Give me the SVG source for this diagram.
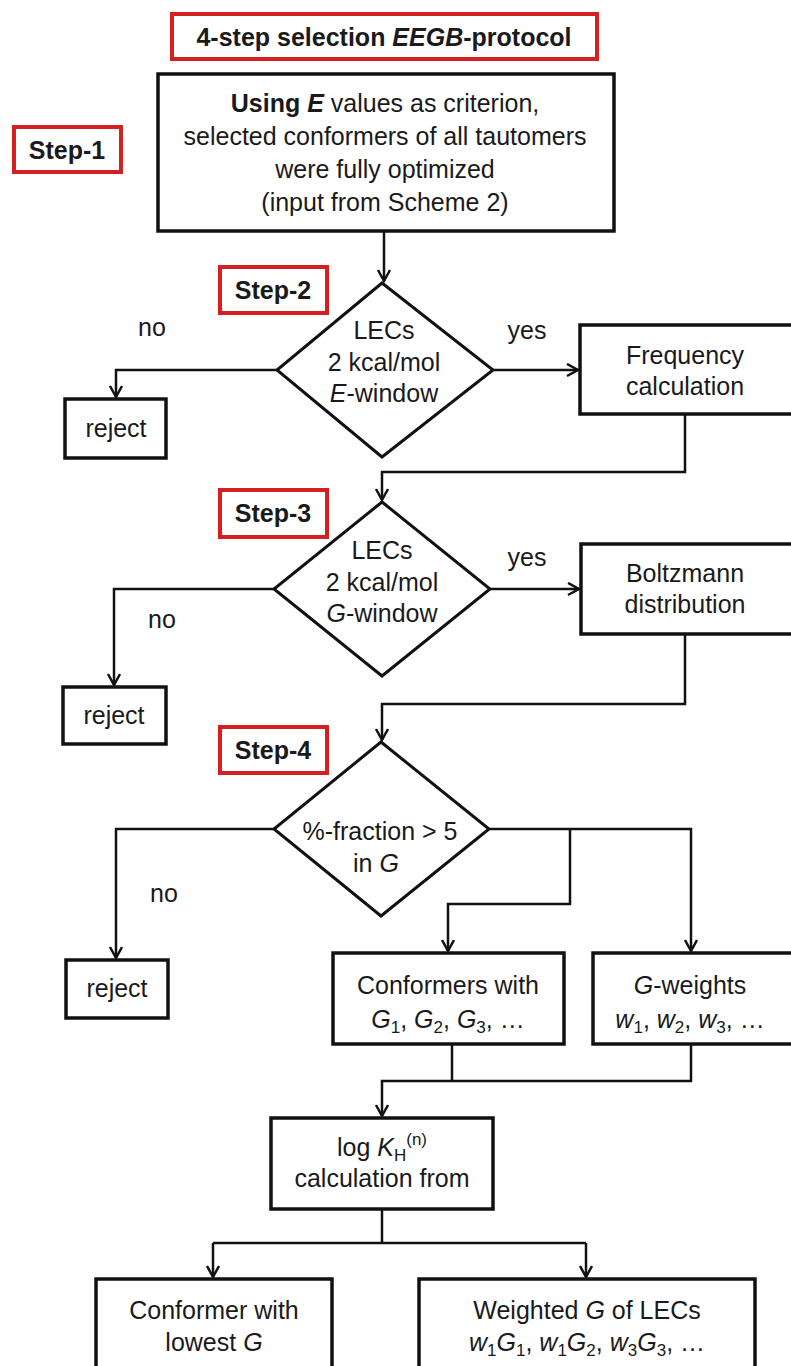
<svg xmlns="http://www.w3.org/2000/svg" width="791" height="1366" viewBox="0 0 791 1366">
<style>
text{font-family:"Liberation Sans",Arial,sans-serif;font-size:25px;fill:#1a1a1a;text-anchor:middle}
.b{font-weight:bold}
.i{font-style:italic}
.box{fill:#fff;stroke:#111;stroke-width:3.5}
.dia{fill:#fff;stroke:#111;stroke-width:3}
.red{fill:#fff;stroke:#d42020;stroke-width:4}
.c{fill:none;stroke:#111;stroke-width:2.5}
.sub{font-size:17px}
</style>
<defs>
<marker id="ah" markerUnits="userSpaceOnUse" markerWidth="16" markerHeight="16" refX="12" refY="7" orient="auto">
<path d="M1,1 L12,7 L1,13" fill="none" stroke="#111" stroke-width="2.5"/>
</marker>
</defs>
<rect width="791" height="1366" fill="#fff"/>

<g id="connectors">
<path class="c" d="M384,231 V281" marker-end="url(#ah)"/>
<path class="c" d="M277,370 H116 V397" marker-end="url(#ah)"/>
<path class="c" d="M493,370 H578" marker-end="url(#ah)"/>
<path class="c" d="M685,414 V472 H382 V500" marker-end="url(#ah)"/>
<path class="c" d="M274,589 H114 V685" marker-end="url(#ah)"/>
<path class="c" d="M490,589 H579" marker-end="url(#ah)"/>
<path class="c" d="M685,634 V704 H382 V740" marker-end="url(#ah)"/>
<path class="c" d="M274,829 H116 V958" marker-end="url(#ah)"/>
<path class="c" d="M489,829 H691 V951" marker-end="url(#ah)"/>
<path class="c" d="M570,829 V904 H448 V951" marker-end="url(#ah)"/>
<path class="c" d="M452,1044 V1081"/>
<path class="c" d="M691,1044 V1081 H382 V1116" marker-end="url(#ah)"/>
<path class="c" d="M382,1209 V1243"/>
<path class="c" d="M213,1243 H586"/>
<path class="c" d="M213,1243 V1277" marker-end="url(#ah)"/>
<path class="c" d="M586,1243 V1277" marker-end="url(#ah)"/>
</g>

<g id="title">
<rect class="red" x="172" y="14" width="425" height="45"/>
<text class="b" x="384" y="46">4-step selection <tspan class="i">EEGB</tspan>-protocol</text>
</g>

<g id="step1-label">
<rect class="red" x="14" y="127" width="107" height="45"/>
<text class="b" x="67" y="159">Step-1</text>
</g>

<g id="step1">
<rect class="box" x="158" y="74" width="456" height="157"/>
<text x="385" y="112"><tspan class="b">Using <tspan class="i">E</tspan></tspan> values as criterion,</text>
<text x="385" y="145">selected conformers of all tautomers</text>
<text x="385" y="178">were fully optimized</text>
<text x="385" y="211">(input from Scheme 2)</text>
</g>

<g id="step2-label">
<rect class="red" x="220" y="267" width="107" height="46"/>
<text class="b" x="273" y="299">Step-2</text>
</g>

<g id="decision1">
<polygon class="dia" points="382,283 493,370 382,457 277,370"/>
<text x="384" y="339">LECs</text>
<text x="384" y="371">2 kcal/mol</text>
<text x="384" y="402"><tspan class="i">E</tspan>-window</text>
</g>
<text x="152" y="336">no</text>
<text x="527" y="339">yes</text>

<g id="reject1">
<rect class="box" x="65" y="399" width="101" height="59"/>
<text x="116" y="437">reject</text>
</g>

<g id="frequency">
<rect class="box" x="580" y="325" width="240" height="89"/>
<text x="685" y="364">Frequency</text>
<text x="685" y="395">calculation</text>
</g>

<g id="step3-label">
<rect class="red" x="220" y="490" width="107" height="47"/>
<text class="b" x="273" y="522">Step-3</text>
</g>

<g id="decision2">
<polygon class="dia" points="382,502 490,589 382,676 274,589"/>
<text x="382" y="559">LECs</text>
<text x="382" y="591">2 kcal/mol</text>
<text x="382" y="622"><tspan class="i">G</tspan>-window</text>
</g>
<text x="527" y="566">yes</text>
<text x="162" y="628">no</text>

<g id="reject2">
<rect class="box" x="63" y="687" width="103" height="57"/>
<text x="114" y="724">reject</text>
</g>

<g id="boltzmann">
<rect class="box" x="581" y="544" width="240" height="90"/>
<text x="685" y="582">Boltzmann</text>
<text x="685" y="613">distribution</text>
</g>

<g id="step4-label">
<rect class="red" x="220" y="727" width="107" height="46"/>
<text class="b" x="273" y="759">Step-4</text>
</g>

<g id="decision3">
<polygon class="dia" points="381,742 489,829 381,916 274,829"/>
<text x="380" y="840">%-fraction &gt; 5</text>
<text x="376" y="872">in <tspan class="i">G</tspan></text>
</g>
<text x="164" y="902">no</text>

<g id="reject3">
<rect class="box" x="66" y="960" width="102" height="58"/>
<text x="117" y="997">reject</text>
</g>

<g id="conformers">
<rect class="box" x="333" y="953" width="231" height="91"/>
<text x="448" y="994">Conformers with</text>
<text x="448" y="1028"><tspan class="i">G</tspan><tspan class="sub" dy="5">1</tspan><tspan dy="-5">, </tspan><tspan class="i">G</tspan><tspan class="sub" dy="5">2</tspan><tspan dy="-5">, </tspan><tspan class="i">G</tspan><tspan class="sub" dy="5">3</tspan><tspan dy="-5">, …</tspan></text>
</g>

<g id="gweights">
<rect class="box" x="593" y="953" width="230" height="91"/>
<text x="690" y="994"><tspan class="i">G</tspan>-weights</text>
<text x="690" y="1028"><tspan class="i">w</tspan><tspan class="sub" dy="5">1</tspan><tspan dy="-5">, </tspan><tspan class="i">w</tspan><tspan class="sub" dy="5">2</tspan><tspan dy="-5">, </tspan><tspan class="i">w</tspan><tspan class="sub" dy="5">3</tspan><tspan dy="-5">, …</tspan></text>
</g>

<g id="logk">
<rect class="box" x="271" y="1118" width="222" height="91"/>
<text x="382" y="1156">log <tspan class="i">K</tspan><tspan class="sub" dy="5">H</tspan><tspan class="sub" dy="-16">(n)</tspan></text>
<text x="382" y="1187">calculation from</text>
</g>

<g id="lowest">
<rect class="box" x="96" y="1279" width="236" height="110"/>
<text x="214" y="1319">Conformer with</text>
<text x="214" y="1351">lowest <tspan class="i">G</tspan></text>
</g>

<g id="weighted">
<rect class="box" x="419" y="1279" width="336" height="110"/>
<text x="587" y="1319">Weighted <tspan class="i">G</tspan> of LECs</text>
<text x="587" y="1351"><tspan class="i">w</tspan><tspan class="sub" dy="5">1</tspan><tspan class="i" dy="-5">G</tspan><tspan class="sub" dy="5">1</tspan><tspan dy="-5">, </tspan><tspan class="i">w</tspan><tspan class="sub" dy="5">1</tspan><tspan class="i" dy="-5">G</tspan><tspan class="sub" dy="5">2</tspan><tspan dy="-5">, </tspan><tspan class="i">w</tspan><tspan class="sub" dy="5">3</tspan><tspan class="i" dy="-5">G</tspan><tspan class="sub" dy="5">3</tspan><tspan dy="-5">, …</tspan></text>
</g>
</svg>
